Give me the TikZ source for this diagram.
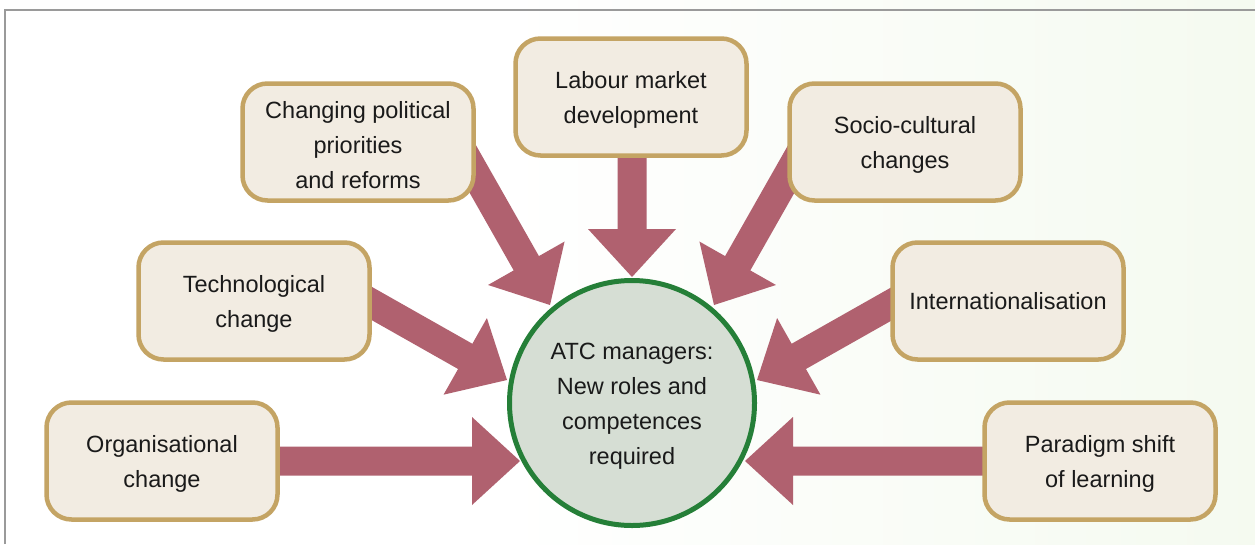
\documentclass[tikz,border=0pt]{standalone}
\usepackage{fontspec}
\setmainfont{Liberation Sans}
\usetikzlibrary{calc}
\definecolor{arrowc}{HTML}{B0616F}
\definecolor{boxborder}{HTML}{C4A464}
\definecolor{boxfill}{HTML}{F2ECE2}
\definecolor{circfill}{HTML}{D6DED4}
\definecolor{circborder}{HTML}{257F38}
\definecolor{txtc}{HTML}{1A1A1A}
\definecolor{bggreen}{HTML}{E8F4DE}
\definecolor{framec}{HTML}{9A9A9A}
\pgfdeclarelayer{bgl}
\pgfdeclarelayer{arrl}
\pgfsetlayers{bgl,arrl,main}
\pgfdeclarehorizontalshading{bgshade}{100bp}{color(0bp)=(white); color(45bp)=(white); color(75bp)=(bggreen!45!white); color(100bp)=(bggreen)}
\newcommand\myarrow[2]{%
  \coordinate (mab) at ($(#2)!48pt!(#1)$);
  \fill[arrowc] (#2) -- ($(mab)!44pt!90:(#2)$) -- ($(mab)!14.5pt!90:(#2)$)
    -- ($(#1)!14.5pt!90:(mab)$) -- ($(#1)!14.5pt!-90:(mab)$)
    -- ($(mab)!14.5pt!-90:(#2)$) -- ($(mab)!44pt!-90:(#2)$) -- cycle;}
\newcommand\lowfirst{\rule{0pt}{23pt}}
\tikzset{
  factorbox/.style={draw=boxborder, fill=boxfill, line width=4.5pt, rounded corners=25pt,
    minimum width=231pt, minimum height=117pt, align=center, text=txtc,
    font=\fontsize{23.5}{35}\selectfont, inner sep=0pt},
  centre/.style={circle, draw=circborder, fill=circfill, line width=5pt, minimum size=245pt,
    align=center, text=txtc, font=\fontsize{23.5}{35}\selectfont, inner sep=0pt},
}
\begin{document}
\begin{tikzpicture}[x=1pt,y=-1pt]
\useasboundingbox (0,0) rectangle (1255,544);
\begin{pgfonlayer}{bgl}
  \shade[shading=bgshade] (0,0) rectangle (1255,544);
  \draw[framec, line width=1.5pt] (5,544) -- (5,10) -- (1255,10);
\end{pgfonlayer}
% nodes
\node[factorbox] (b1) at (358,142) {\lowfirst Changing political\\priorities\\and reforms};
\node[factorbox] (b2) at (631,97) {\lowfirst Labour market\\development};
\node[factorbox] (b3) at (905,142) {\lowfirst Socio-cultural\\changes};
\node[factorbox] (b4) at (254,301) {\lowfirst Technological\\change};
\node[factorbox] (b5) at (1008,301) {Internationalisation};
\node[factorbox] (b6) at (162,461) {\lowfirst Organisational\\change};
\node[factorbox] (b7) at (1100,461) {\lowfirst Paradigm shift\\of learning};
\node[centre] (c) at (632,403) {\lowfirst ATC managers:\\New roles and\\competences\\required};
% arrow ends
\coordinate (s1) at (462,150); \coordinate (t1) at (550,305);
\coordinate (s2) at (632,150); \coordinate (t2) at (632,277);
\coordinate (s3) at (802,150); \coordinate (t3) at (714,305);
\coordinate (s4) at (355,294); \coordinate (t4) at (507,380);
\coordinate (s5) at (909,294); \coordinate (t5) at (757,380);
\coordinate (s6) at (270,461); \coordinate (t6) at (520,461);
\coordinate (s7) at (994,461); \coordinate (t7) at (745,461);
\begin{pgfonlayer}{arrl}
  \myarrow{s1}{t1}
  \myarrow{s2}{t2}
  \myarrow{s3}{t3}
  \myarrow{s4}{t4}
  \myarrow{s5}{t5}
  \myarrow{s6}{t6}
  \myarrow{s7}{t7}
\end{pgfonlayer}
\end{tikzpicture}
\end{document}
